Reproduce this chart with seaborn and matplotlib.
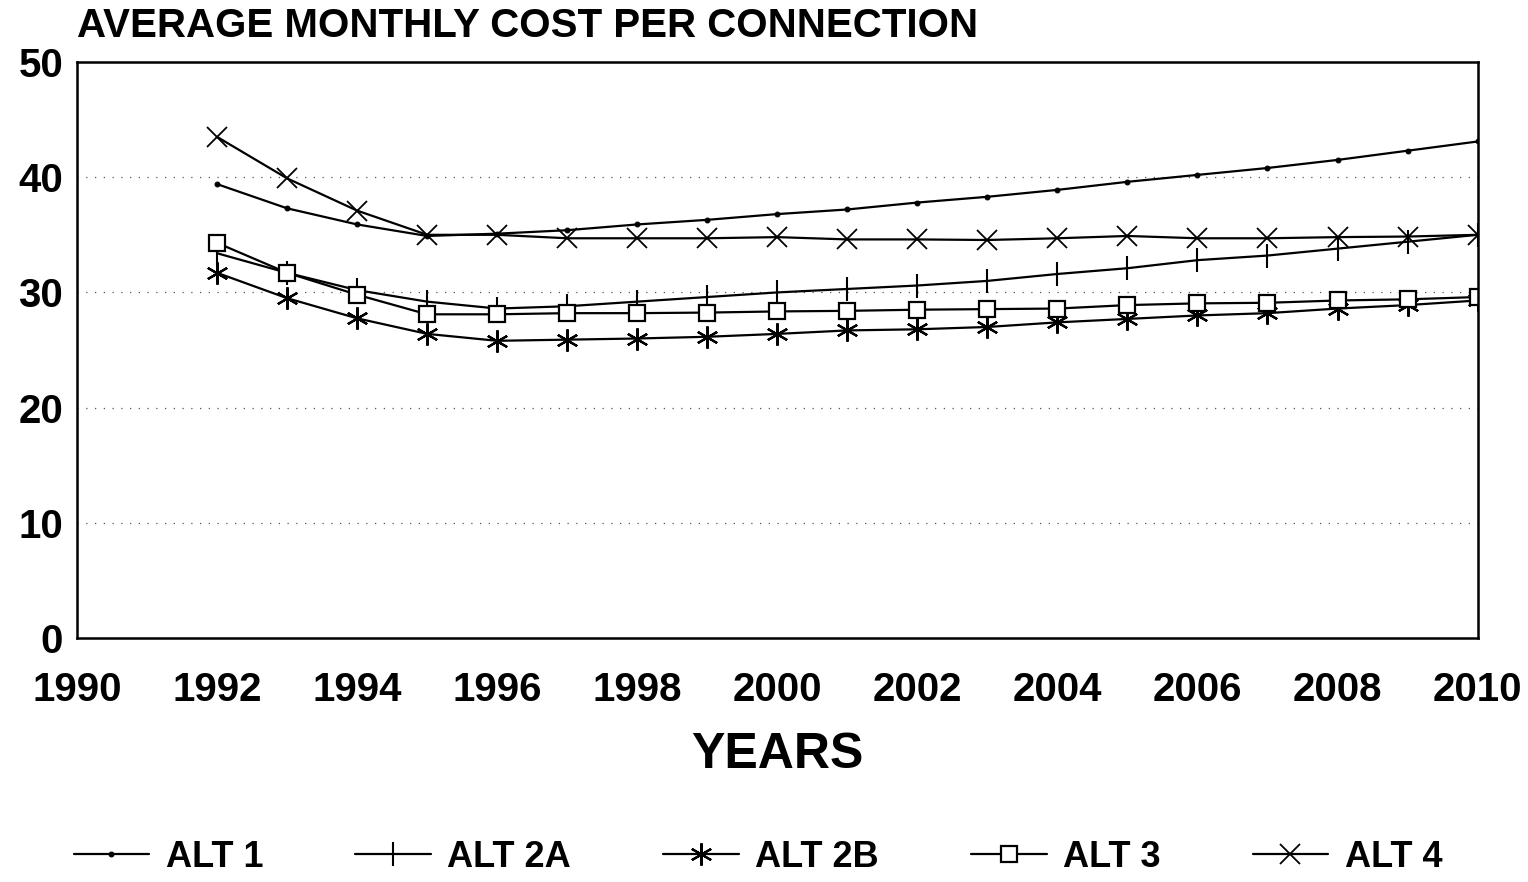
"""Average monthly cost per connection, 1992-2010, five alternatives."""

import numpy as np
import pandas as pd
import matplotlib
matplotlib.use('Agg')
import matplotlib.pyplot as plt
import seaborn as sns

years = list(range(1992, 2011))

alt_1 = [39.4, 37.3, 35.9, 34.9, 35.1, 35.4, 35.9, 36.3, 36.8, 37.2,
         37.8, 38.3, 38.9, 39.6, 40.2, 40.8, 41.5, 42.3, 43.1]
alt_2a = [33.4, 31.7, 30.2, 29.2, 28.6, 28.8, 29.2, 29.6, 30.0, 30.3,
          30.6, 31.0, 31.6, 32.1, 32.8, 33.2, 33.8, 34.4, 35.0]
alt_2b = [31.7, 29.5, 27.75, 26.4, 25.8, 25.9, 26.0, 26.15, 26.4, 26.7,
          26.8, 27.0, 27.4, 27.7, 28.0, 28.2, 28.6, 28.9, 29.3]
alt_3 = [34.3, 31.7, 29.8, 28.1, 28.1, 28.2, 28.2, 28.25, 28.35, 28.4,
         28.5, 28.55, 28.6, 28.9, 29.05, 29.1, 29.3, 29.4, 29.6]
alt_4 = [43.5, 39.9, 37.1, 35.0, 35.0, 34.7, 34.7, 34.7, 34.8, 34.6,
         34.6, 34.55, 34.7, 34.9, 34.7, 34.7, 34.8, 34.85, 35.0]

series_names = ['ALT 1', 'ALT 2A', 'ALT 2B', 'ALT 3', 'ALT 4']
series_values = [alt_1, alt_2a, alt_2b, alt_3, alt_4]

x_ticks = list(range(1990, 2011, 2))
y_ticks = [0, 10, 20, 30, 40, 50]

sns.set_style('white')
plt.rcParams['font.family'] = ['Liberation Sans', 'DejaVu Sans']
plt.rcParams['text.color'] = 'black'
plt.rcParams['axes.labelcolor'] = 'black'
plt.rcParams['xtick.color'] = 'black'
plt.rcParams['ytick.color'] = 'black'

# marker styles per alternative
marker_styles = {
    'ALT 1': dict(marker='o', markersize=3.5, markerfacecolor='black'),
    'ALT 2A': dict(marker='|', markersize=17, markeredgewidth=1.5),
    'ALT 2B': dict(marker=(6, 2, 0), markersize=16, markeredgewidth=1.6),
    'ALT 3': dict(marker='s', markersize=12, markerfacecolor='white', markeredgewidth=1.6),
    'ALT 4': dict(marker='x', markersize=14, markeredgewidth=1.3),
}

fig = plt.figure(figsize=(15.28, 8.82), dpi=100)
ax = fig.add_axes([0.0504, 0.2766, 0.9166, 0.6531])

for name, vals in zip(series_names, series_values):
    df = pd.DataFrame({'year': years, 'cost': vals})
    sns.lineplot(data=df, x='year', y='cost', ax=ax, color='black',
                 linewidth=1.6, label=name, markeredgecolor='black',
                 **marker_styles[name])

ax.set_xlim(1990, 2010)
ax.set_ylim(0, 50)
ax.set_xticks(x_ticks)
ax.set_yticks(y_ticks)
ax.set_xticklabels([str(t) for t in x_ticks], fontsize=29, fontweight='bold')
ax.set_yticklabels([str(t) for t in y_ticks], fontsize=29, fontweight='bold')
ax.tick_params(axis='x', length=0, pad=24)
ax.tick_params(axis='y', length=0, pad=10)

for y in [10, 20, 30, 40]:
    ax.axhline(y, color='#555555', linestyle=(0, (1, 6)), linewidth=0.9, zorder=0)

for spine in ax.spines.values():
    spine.set_color('black')
    spine.set_linewidth(1.8)

ax.set_xlabel('YEARS', fontsize=36, fontweight='bold', labelpad=16)
ax.set_ylabel('')

fig.text(0.0504, 0.949, 'AVERAGE MONTHLY COST PER CONNECTION', fontsize=29,
         fontweight='bold', ha='left', va='bottom')

handles, labels = ax.get_legend_handles_labels()
ax.get_legend().remove()
fig.legend(handles, labels, loc='center', bbox_to_anchor=(0.496, 0.028),
           ncol=5, frameon=False, handlelength=2.1,
           columnspacing=2.55, handletextpad=0.45,
           prop={'weight': 'bold', 'size': 26})

fig.savefig('out.png', dpi=100)
